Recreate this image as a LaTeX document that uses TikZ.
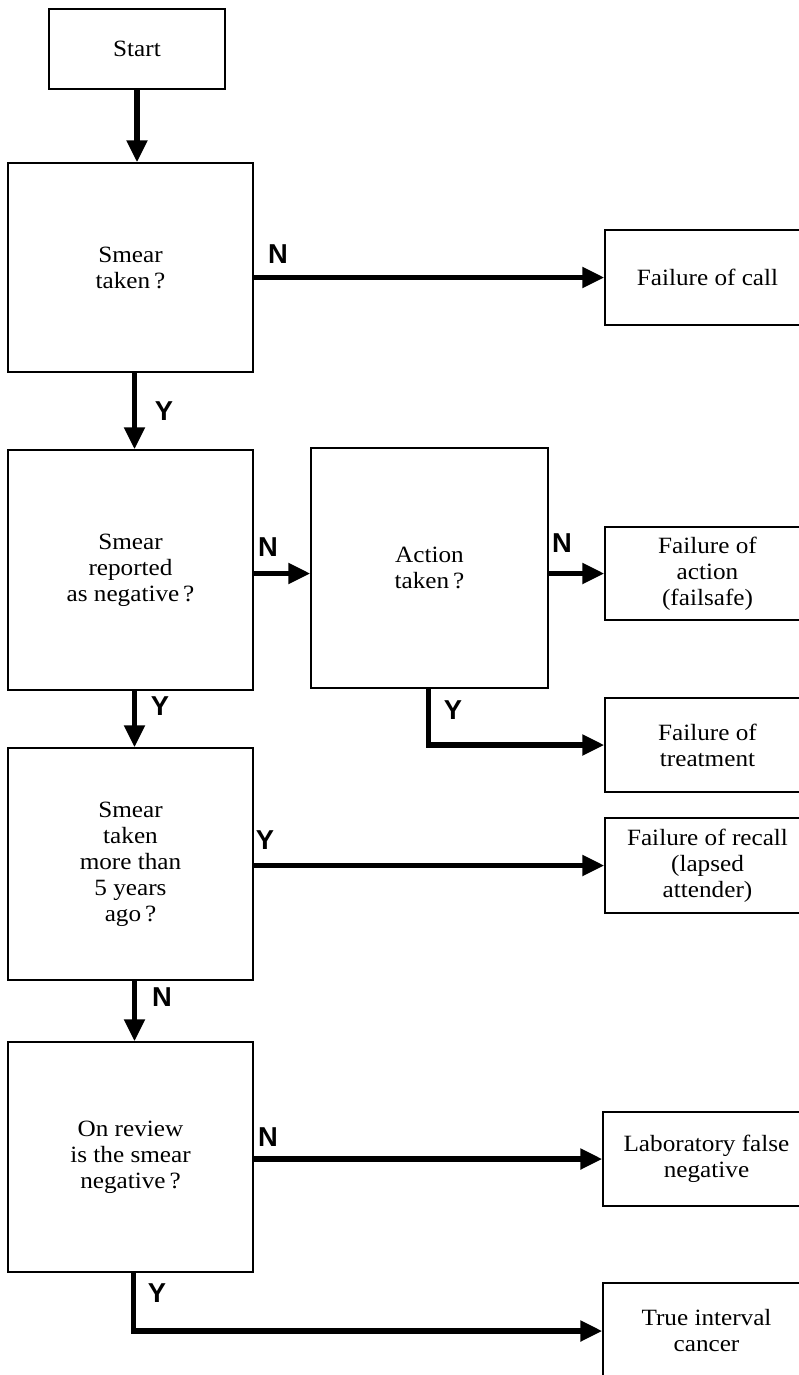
\documentclass[tikz,border=0pt]{standalone}
\usepackage{fontspec}
\setmainfont[FakeStretch=1.08]{Liberation Serif}
\newfontfamily\lblfont{Liberation Sans}
\usetikzlibrary{arrows.meta}
\tikzset{
  box/.style={draw=black, line width=1.1pt, align=center, inner sep=0pt,
    font=\fontsize{17.5pt}{19.5pt}\selectfont},
  flow/.style={line width=4pt, -{Triangle[length=16.5pt,width=15pt]}},
  yn/.style={font=\lblfont\bfseries\fontsize{20.5pt}{20.5pt}\selectfont, inner sep=0pt}
}
\begin{document}
\begin{tikzpicture}[x=0.75pt,y=-0.75pt]
\clip (0,0) rectangle (799,1375);
\fill[white] (0,0) rectangle (799,1375);
% left column
\node[box, minimum width=176*0.75pt, minimum height=80*0.75pt] (start) at (137,49) {Start};
\node[box, minimum width=245*0.75pt, minimum height=209*0.75pt] (b1) at (130.5,267.5) {Smear\\taken\,?};
\node[box, minimum width=245*0.75pt, minimum height=240*0.75pt] (b2) at (130.5,570) {Smear\\reported\\as negative\,?};
\node[box, minimum width=237*0.75pt, minimum height=240*0.75pt] (act) at (429.5,568) {Action\\taken\,?};
\node[box, minimum width=245*0.75pt, minimum height=232*0.75pt] (b3) at (130.5,864) {Smear\\taken\\more than\\5 years\\ago\,?};
\node[box, minimum width=245*0.75pt, minimum height=230*0.75pt] (b4) at (130.5,1157) {On review\\is the smear\\negative\,?};
% right column
\node[box, minimum width=205*0.75pt, minimum height=95*0.75pt] (fcall) at (707.5,277.5) {Failure of call};
\node[box, minimum width=205*0.75pt, minimum height=93*0.75pt] (fact) at (707.5,573.5) {Failure of\\action\\(failsafe)};
\node[box, minimum width=205*0.75pt, minimum height=94*0.75pt] (ftreat) at (707.5,745) {Failure of\\treatment};
\node[box, minimum width=205*0.75pt, minimum height=95*0.75pt] (frecall) at (707.5,865.5) {Failure of recall\\(lapsed\\attender)};
\node[box, minimum width=207*0.75pt, minimum height=94*0.75pt] (flab) at (706.5,1159) {Laboratory false\\negative};
\node[box, minimum width=207*0.75pt, minimum height=96*0.75pt] (ftrue) at (706.5,1331) {True interval\\cancer};
% connectors
\draw[flow] (start.south) -- (start.south |- b1.north);
\draw[flow] ([xshift=3pt]b1.south) -- ([xshift=3pt]b2.north);
\draw[flow] ([xshift=3pt]b2.south) -- ([xshift=3pt]b3.north);
\draw[flow] ([xshift=3pt]b3.south) -- ([xshift=3pt]b4.north);
\draw[flow] (b1.east |- fcall.west) -- (fcall.west);
\draw[flow] (b2.east |- fact.west) -- (act.west |- fact.west);
\draw[flow] (act.east |- fact.west) -- (fact.west);
\draw[flow] ([xshift=-1pt]act.south) -- ([xshift=-1pt]act.south |- ftreat.west) -- (ftreat.west);
\draw[flow] (b3.east |- frecall.west) -- (frecall.west);
\draw[flow] (b4.east |- flab.west) -- (flab.west);
\draw[flow] ([xshift=2pt]b4.south) -- ([xshift=2pt]b4.south |- ftrue.west) -- (ftrue.west);
% labels
\node[yn] (l1) at (278,254) {N};
\node[yn] (l2) at (164,411) {Y};
\node[yn] (l3) at (268,547) {N};
\node[yn] (l4) at (562,543) {N};
\node[yn] (l5) at (453,710) {Y};
\node[yn] (l6) at (160,706) {Y};
\node[yn] (l7) at (265,840) {Y};
\node[yn] (l8) at (162,997) {N};
\node[yn] (l9) at (268,1137) {N};
\node[yn] (l10) at (157,1293) {Y};
\end{tikzpicture}
\end{document}
